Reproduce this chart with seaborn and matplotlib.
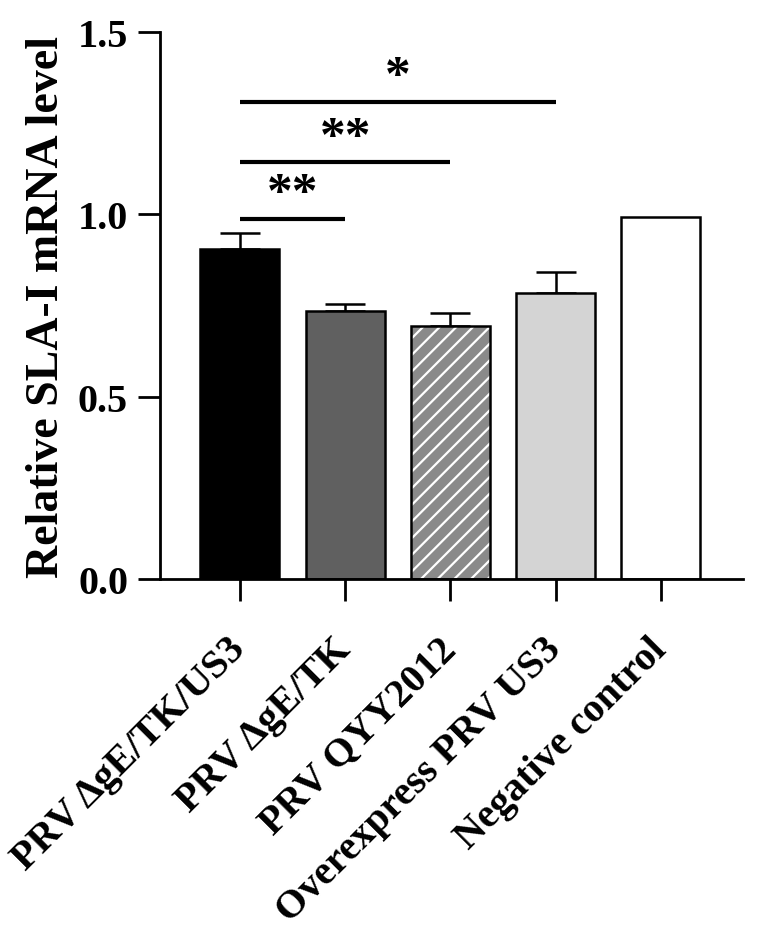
import matplotlib
matplotlib.use("Agg")
import matplotlib.pyplot as plt
from matplotlib.patches import Rectangle
import seaborn as sns
import pandas as pd

categories = ["PRV \u0394gE/TK/US3", "PRV \u0394gE/TK", "PRV QYY2012",
              "Overexpress PRV US3", "Negative control"]
values = [0.906, 0.735, 0.694, 0.785, 0.993]
errors = [0.042, 0.019, 0.037, 0.057, 0.0]
bar_colors = ["#000000", "#606060", "#8a8a8a", "#d4d4d4", "#ffffff"]
hatched = [False, False, True, False, False]

# significance comparisons: (group a, group b, y level, label)
comparisons = [
    ("PRV \u0394gE/TK/US3", "PRV \u0394gE/TK", 0.988, "**"),
    ("PRV \u0394gE/TK/US3", "PRV QYY2012", 1.143, "**"),
    ("PRV \u0394gE/TK/US3", "Overexpress PRV US3", 1.309, "*"),
]
y_ticks = [0.0, 0.5, 1.0, 1.5]
y_label = "Relative SLA-I mRNA level"

sns.set_style("ticks")
plt.rcParams["font.family"] = ["Liberation Serif", "DejaVu Serif"]
plt.rcParams["font.weight"] = "bold"
plt.rcParams["hatch.linewidth"] = 1.6
for k in ["text.color", "axes.labelcolor", "xtick.color", "ytick.color",
          "axes.edgecolor"]:
    plt.rcParams[k] = "black"

df = pd.DataFrame({"group": categories, "value": values})

fig = plt.figure(figsize=(7.6, 9.37), dpi=100)
ax = fig.add_axes([0.2105, 0.3805, 0.767, 0.5843])

sns.barplot(data=df, x="group", y="value", hue="group", order=categories,
            hue_order=categories, palette=bar_colors, legend=False,
            edgecolor="black", linewidth=1.8, width=0.75, errorbar=None,
            saturation=1, ax=ax)

patches = [p for p in ax.patches]
for p, h in zip(patches, hatched):
    if h:
        p.set_hatch("//")
        p.set_edgecolor("white")
        p.set_linewidth(0)
        ax.add_patch(Rectangle(p.get_xy(), p.get_width(), p.get_height(),
                               fill=False, edgecolor="black", linewidth=1.8,
                               zorder=p.get_zorder() + 0.1))

xpos = list(range(len(categories)))
for x, v, e in zip(xpos, values, errors):
    if e > 0:
        ax.errorbar([x], [v], yerr=[[0], [e]], fmt="none", ecolor="black",
                    elinewidth=1.8, capsize=14.4, capthick=1.8, zorder=0.5)

for a, b, y, lab in comparisons:
    xa, xb = categories.index(a), categories.index(b)
    ax.plot([xa, xb], [y, y], color="black", lw=3.0, solid_capstyle="butt")
    ax.text((xa + xb) / 2, y + 0.004, lab, ha="center", va="bottom",
            fontsize=37, fontweight="bold")

ax.set_xlim(-0.76, 4.78)
ax.set_ylim(0, 1.5)
ax.set_yticks(y_ticks)
ax.set_yticklabels([f"{t:.1f}" for t in y_ticks])
ax.set_xlabel("")
ax.set_ylabel(y_label, fontsize=33, fontweight="bold")
ax.yaxis.set_label_coords(-0.158, 0.5)
sns.despine(ax=ax)
ax.spines["left"].set_linewidth(2.0)
ax.spines["bottom"].set_linewidth(2.0)
ax.tick_params(axis="both", length=16, width=2.0, labelsize=29, color="black")
ax.tick_params(axis="y", pad=7)
ax.tick_params(axis="x", pad=30)
for lbl in ax.get_yticklabels():
    lbl.set_fontweight("bold")
for lbl in ax.get_xticklabels():
    lbl.set_rotation(45)
    lbl.set_ha("right")
    lbl.set_va("center")
    lbl.set_rotation_mode("anchor")
    lbl.set_fontweight("bold")

fig.savefig("out.png", dpi=100, facecolor="white")
